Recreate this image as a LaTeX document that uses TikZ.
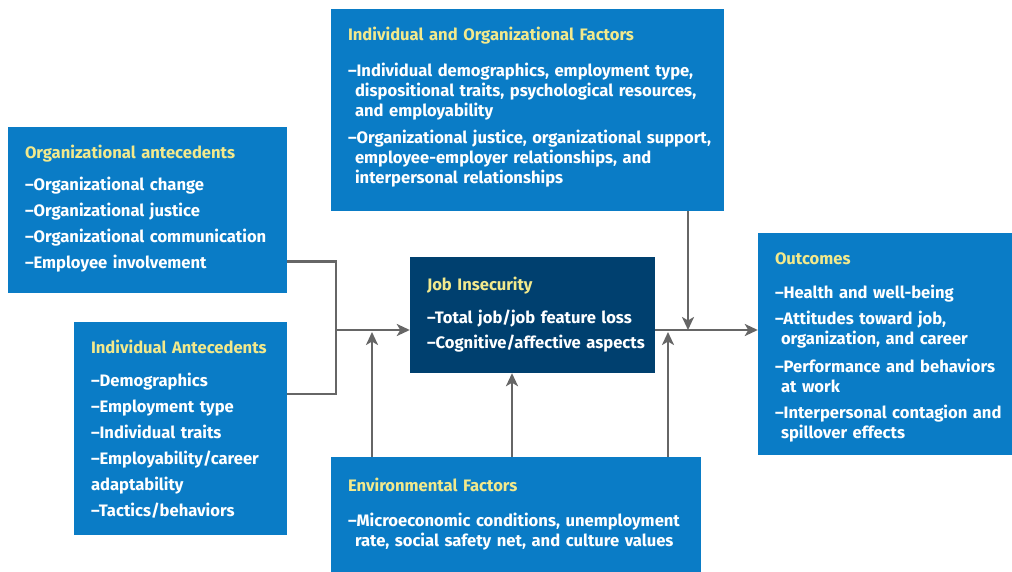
\documentclass[tikz,border=0pt]{standalone}
\usepackage{fontspec}
\setmainfont{Fira Sans}
\usetikzlibrary{arrows.meta,calc}
\definecolor{boxblue}{HTML}{0A7CC6}
\definecolor{navy}{HTML}{00406F}
\definecolor{ttlyellow}{HTML}{F2E98C}
\definecolor{conngray}{HTML}{666666}
\newcommand{\hd}[1]{\textcolor{ttlyellow}{#1}}
\newenvironment{lines}{\begin{tabular}{@{}l@{}}}{\end{tabular}}
\tikzset{
  panel/.style={fill=boxblue, draw=none, text=white, align=left,
    inner xsep=17pt, inner ysep=0pt, anchor=center,
    font=\fontsize{16.6}{20}\selectfont\bfseries},
  darkpanel/.style={panel, fill=navy},
  link/.style={draw=conngray, line width=2.6pt},
  arr/.style={link, -{Stealth[length=13pt,width=12pt,inset=3.5pt]}},
}
\begin{document}
\begin{tikzpicture}[x=1pt,y=-1pt]
\useasboundingbox (0,0) rectangle (1012,572);
\fill[white] (0,0) rectangle (1012,572);

\node[panel, text width=245pt, minimum height=166pt] (oa) at (147.5,210) {\begin{lines}
\hd{Organizational antecedents}\\[12pt]
–Organizational change\\[6pt]
–Organizational justice\\[6pt]
–Organizational communication\\[6pt]
–Employee involvement\end{lines}};

\node[panel, text width=179pt, minimum height=213pt] (ia) at (180.5,428.5) {\begin{lines}
\hd{Individual Antecedents}\\[13pt]
–Demographics\\[6pt]
–Employment type\\[6pt]
–Individual traits\\[6pt]
–Employability/career\\[6pt]
adaptability\\[6pt]
–Tactics/behaviors\\[-4pt]\end{lines}};

\node[panel, text width=359pt, minimum height=202pt] (iof) at (527.5,110) {\begin{lines}
\hd{Individual and Organizational Factors}\\[16pt]
–Individual demographics, employment type,\\
\hspace*{7pt}dispositional traits, psychological resources,\\
\hspace*{7pt}and employability\\[7pt]
–Organizational justice, organizational support,\\
\hspace*{7pt}employee-employer relationships, and\\
\hspace*{7pt}interpersonal relationships\\[4pt]\end{lines}};

\node[darkpanel, text width=211pt, minimum height=116pt] (ji) at (532.5,315) {\begin{lines}
\hd{Job Insecurity}\\[13pt]
–Total job/job feature loss\\[5pt]
–Cognitive/affective aspects\end{lines}};

\node[panel, text width=336pt, minimum height=115pt] (env) at (516,514.5) {\begin{lines}
\hd{Environmental Factors}\\[15pt]
–Microeconomic conditions, unemployment\\
\hspace*{7pt}rate, social safety net, and culture values\end{lines}};

\node[panel, text width=220pt, minimum height=222pt] (out) at (885,344) {\begin{lines}
\hd{Outcomes}\\[14pt]
–Health and well-being\\[6pt]
–Attitudes toward job,\\
\hspace*{6pt}organization, and career\\[8pt]
–Performance and behaviors\\
\hspace*{6pt}at work\\[6pt]
–Interpersonal contagion and\\
\hspace*{6pt}spillover effects\\[-6pt]\end{lines}};

\coordinate (jl) at (336,330);
\coordinate (jr) at (655,330);
\coordinate (e1) at (372,330);
\coordinate (e2) at (512,330);
\coordinate (e3) at (668,330);
\coordinate (t1) at (688,330);

\draw[link] ([yshift=32pt]oa.south east) -| (jl);
\draw[link] ([yshift=-72pt]ia.north east) -| (jl);
\draw[arr] (jl) -- (ji.west |- jl);
\draw[arr] (e1 |- env.north) -- ([yshift=-2pt]e1);
\draw[arr] (e2 |- env.north) -- (e2 |- ji.south);
\draw[arr] (e3 |- env.north) -- ([yshift=-2pt]e3);
\draw[arr] (t1 |- iof.south) -- (t1);
\draw[arr] (jr) -- (out.west |- jr);
\end{tikzpicture}
\end{document}
